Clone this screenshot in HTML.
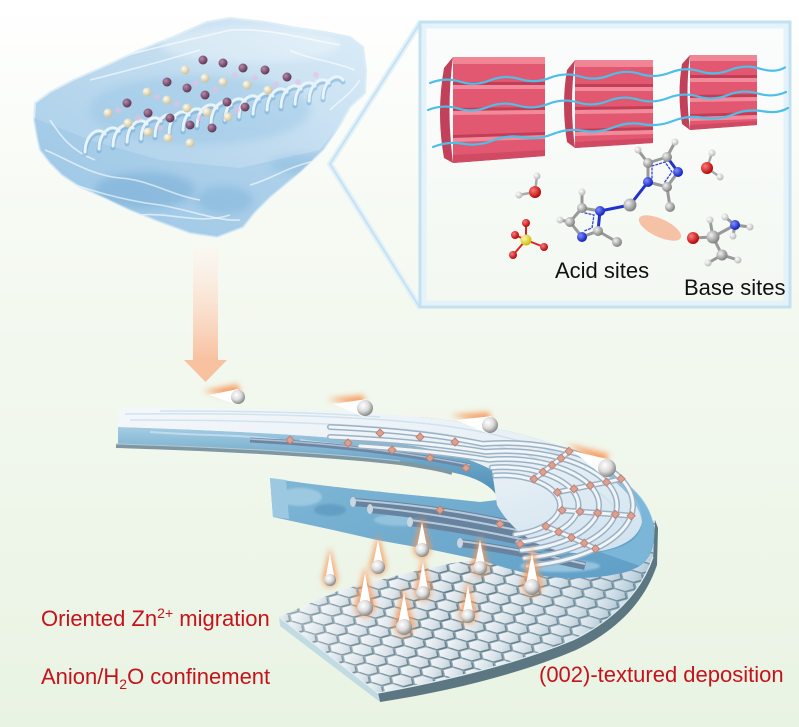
<!DOCTYPE html>
<html><head><meta charset="utf-8"><style>
html,body{margin:0;padding:0;background:#fff;}
svg{display:block;}
text{font-family:"Liberation Sans",Arial,sans-serif;}
</style></head><body>
<svg width="799" height="727" viewBox="0 0 799 727" xmlns="http://www.w3.org/2000/svg">
<defs>
<linearGradient id="bg" x1="0" y1="0" x2="0" y2="1">
<stop offset="0" stop-color="#ffffff"/><stop offset="0.3" stop-color="#f6faf3"/><stop offset="1" stop-color="#e9f3e3"/>
</linearGradient>
<linearGradient id="iceG" x1="1" y1="0" x2="0" y2="1">
<stop offset="0" stop-color="#dcedf8"/><stop offset="0.5" stop-color="#bcd9ee"/><stop offset="1" stop-color="#a2cbe8"/>
</linearGradient>
<linearGradient id="boxG" x1="0" y1="0" x2="0" y2="1">
<stop offset="0" stop-color="#fbfdfd"/><stop offset="1" stop-color="#f3f8f1"/>
</linearGradient>
<linearGradient id="arrG" x1="0" y1="0" x2="0" y2="1">
<stop offset="0" stop-color="#fff6f1" stop-opacity="0.5"/><stop offset="1" stop-color="#f8c1a0"/>
</linearGradient>
<linearGradient id="topG" x1="0" y1="0" x2="1" y2="1">
<stop offset="0" stop-color="#f4f7fa"/><stop offset="0.6" stop-color="#e6eff5"/><stop offset="1" stop-color="#cfe2ee"/>
</linearGradient>
<linearGradient id="loopG" x1="0" y1="0" x2="1" y2="1">
<stop offset="0" stop-color="#86bcd9"/><stop offset="1" stop-color="#5f9ec6"/>
</linearGradient>
<linearGradient id="frontG" x1="0" y1="0" x2="0" y2="1">
<stop offset="0" stop-color="#a5cde3"/><stop offset="0.5" stop-color="#6aa5c8"/><stop offset="1" stop-color="#4f8db5"/>
</linearGradient>
<linearGradient id="hexG" x1="0" y1="0" x2="1" y2="1">
<stop offset="0" stop-color="#fbfcfd"/><stop offset="0.6" stop-color="#d9e3e9"/><stop offset="1" stop-color="#b4c5cf"/>
</linearGradient>
<linearGradient id="plateShade" x1="0" y1="0" x2="1" y2="0">
<stop offset="0" stop-color="#ffffff" stop-opacity="0.3"/><stop offset="0.45" stop-color="#ffffff" stop-opacity="0"/><stop offset="1" stop-color="#6f9fbd" stop-opacity="0.3"/>
</linearGradient>
<radialGradient id="gZ" cx="0.38" cy="0.35" r="0.7"><stop offset="0" stop-color="#ffffff"/><stop offset="0.5" stop-color="#dcdcdc"/><stop offset="1" stop-color="#7e7e7e"/></radialGradient>
<radialGradient id="gC" cx="0.35" cy="0.35" r="0.7"><stop offset="0" stop-color="#f2f2f2"/><stop offset="1" stop-color="#7a7a7a"/></radialGradient>
<radialGradient id="gN" cx="0.35" cy="0.35" r="0.7"><stop offset="0" stop-color="#7f8fff"/><stop offset="1" stop-color="#0a1ab8"/></radialGradient>
<radialGradient id="gO" cx="0.35" cy="0.35" r="0.7"><stop offset="0" stop-color="#ff7a7a"/><stop offset="1" stop-color="#b00000"/></radialGradient>
<radialGradient id="gH" cx="0.35" cy="0.35" r="0.7"><stop offset="0" stop-color="#ffffff"/><stop offset="1" stop-color="#b5b5b5"/></radialGradient>
<radialGradient id="gS" cx="0.35" cy="0.35" r="0.7"><stop offset="0" stop-color="#fffbb0"/><stop offset="1" stop-color="#c9b800"/></radialGradient>
<radialGradient id="gP" cx="0.35" cy="0.35" r="0.7"><stop offset="0" stop-color="#b58aa8"/><stop offset="1" stop-color="#5a3050"/></radialGradient>
<radialGradient id="gY" cx="0.35" cy="0.35" r="0.7"><stop offset="0" stop-color="#fffdf0"/><stop offset="1" stop-color="#c9bd98"/></radialGradient>
<filter id="glow" x="-60%" y="-60%" width="220%" height="220%"><feGaussianBlur stdDeviation="3"/></filter>
<filter id="blur4" x="-30%" y="-30%" width="160%" height="160%"><feGaussianBlur stdDeviation="4"/></filter>
<filter id="blur1"><feGaussianBlur stdDeviation="1"/></filter>
<pattern id="hexP" patternUnits="userSpaceOnUse" width="24" height="14" patternTransform="matrix(1.25,-0.34,0.95,0.73,279,617)">
<rect width="24" height="14" fill="#86a0ad"/>
<g fill="#5e7783">
<polygon points="-7,1.5 -3.5,-4.5 3.5,-4.5 7,1.5 3.5,7.5 -3.5,7.5"/>
<polygon points="17,1.5 20.5,-4.5 27.5,-4.5 31,1.5 27.5,7.5 20.5,7.5"/>
<polygon points="-7,15.5 -3.5,9.5 3.5,9.5 7,15.5 3.5,21.5 -3.5,21.5"/>
<polygon points="17,15.5 20.5,9.5 27.5,9.5 31,15.5 27.5,21.5 20.5,21.5"/>
<polygon points="5,8.5 8.5,2.5 15.5,2.5 19,8.5 15.5,14.5 8.5,14.5"/>
</g>
<g fill="url(#hexG)">
<polygon points="-7,0 -3.5,-6 3.5,-6 7,0 3.5,6 -3.5,6"/>
<polygon points="17,0 20.5,-6 27.5,-6 31,0 27.5,6 20.5,6"/>
<polygon points="-7,14 -3.5,8 3.5,8 7,14 3.5,20 -3.5,20"/>
<polygon points="17,14 20.5,8 27.5,8 31,14 27.5,20 20.5,20"/>
<polygon points="5,7 8.5,1 15.5,1 19,7 15.5,13 8.5,13"/>
</g>
</pattern>
<clipPath id="iceClip"><path d="M35,103 L50,92 L73,80 L105,66 L140,50 L175,36 L207,22 L230,18 L265,22 L297,28 L325,32 L350,37 L363,47 L366,70 L365,93 L350,107 L340,125 L323,150 L300,172 L270,197 L255,212 L243,227 L217,237 L190,233 L160,222 L130,210 L105,198 L80,187 L62,175 L50,163 L40,150 L37,137 L34,120 Z"/></clipPath>
</defs>

<rect width="799" height="727" fill="url(#bg)"/>

<!-- ICE BLOCK -->
<g>
<path d="M35,103 L50,92 L73,80 L105,66 L140,50 L175,36 L207,22 L230,18 L265,22 L297,28 L325,32 L350,37 L363,47 L366,70 L365,93 L350,107 L340,125 L323,150 L300,172 L270,197 L255,212 L243,227 L217,237 L190,233 L160,222 L130,210 L105,198 L80,187 L62,175 L50,163 L40,150 L37,137 L34,120 Z" fill="url(#iceG)" stroke="#dcedf7" stroke-width="2"/>
<g clip-path="url(#iceClip)">
<path d="M34,118 L90,140 L160,160 L240,168 L320,150 L360,100 L370,240 L30,240 Z" fill="#8fc0e2" opacity="0.35"/>
<ellipse cx="145" cy="190" rx="50" ry="18" fill="#5f9ccc" opacity="0.35" filter="url(#blur4)"/>
<ellipse cx="225" cy="200" rx="28" ry="14" fill="#6ea8d4" opacity="0.35" filter="url(#blur4)"/>
<ellipse cx="300" cy="165" rx="30" ry="10" fill="#7fb4da" opacity="0.35" filter="url(#blur4)"/>
<ellipse cx="250" cy="45" rx="90" ry="18" fill="#ffffff" opacity="0.3" filter="url(#blur4)"/>
<ellipse cx="200" cy="110" rx="110" ry="35" fill="#8cbfe3" opacity="0.35" filter="url(#blur4)"/>
<g fill="none" stroke="#ffffff" stroke-opacity="0.6" stroke-width="1.6">
<path d="M45,150 C70,160 90,175 120,178 C150,180 170,195 200,200"/>
<path d="M60,180 C90,190 120,200 160,205 C190,210 220,222 240,220"/>
<path d="M140,215 C170,212 200,225 230,215"/>
<path d="M250,185 C270,180 290,165 320,160"/>
<path d="M110,60 C150,48 190,40 230,30 C270,28 300,38 340,45"/>
<path d="M90,80 C130,70 160,62 200,50"/>
<path d="M290,50 C310,60 330,60 355,70"/>
<path d="M330,110 C340,100 350,95 360,80"/>
<path d="M50,120 C60,135 70,150 95,160"/>
</g>
<g fill="none" stroke="#6faad8" stroke-width="5" stroke-linecap="round" opacity="0.5">
<path d="M85,154 c0,-18 14,-26 20,-18"/><path d="M99,151 c0,-18 14,-26 20,-18"/><path d="M113,148 c0,-18 14,-26 20,-18"/><path d="M127,144 c0,-18 14,-26 20,-18"/><path d="M141,141 c0,-18 14,-26 20,-18"/><path d="M155,138 c0,-18 14,-26 20,-18"/><path d="M169,135 c0,-18 14,-26 20,-18"/><path d="M183,132 c0,-18 14,-26 20,-18"/><path d="M197,128 c0,-18 14,-26 20,-18"/><path d="M211,125 c0,-18 14,-26 20,-18"/><path d="M225,122 c0,-18 14,-26 20,-18"/><path d="M239,119 c0,-18 14,-26 20,-18"/><path d="M253,116 c0,-18 14,-26 20,-18"/><path d="M267,112 c0,-18 14,-26 20,-18"/><path d="M281,109 c0,-18 14,-26 20,-18"/><path d="M295,106 c0,-18 14,-26 20,-18"/><path d="M309,103 c0,-18 14,-26 20,-18"/><path d="M323,100 c0,-18 14,-26 20,-18"/>
</g>
<g fill="none" stroke="#eef6fc" stroke-width="3" stroke-linecap="round" opacity="0.95">
<path d="M85,152 c0,-18 14,-26 20,-18"/><path d="M99,149 c0,-18 14,-26 20,-18"/><path d="M113,146 c0,-18 14,-26 20,-18"/><path d="M127,142 c0,-18 14,-26 20,-18"/><path d="M141,139 c0,-18 14,-26 20,-18"/><path d="M155,136 c0,-18 14,-26 20,-18"/><path d="M169,133 c0,-18 14,-26 20,-18"/><path d="M183,130 c0,-18 14,-26 20,-18"/><path d="M197,126 c0,-18 14,-26 20,-18"/><path d="M211,123 c0,-18 14,-26 20,-18"/><path d="M225,120 c0,-18 14,-26 20,-18"/><path d="M239,117 c0,-18 14,-26 20,-18"/><path d="M253,114 c0,-18 14,-26 20,-18"/><path d="M267,110 c0,-18 14,-26 20,-18"/><path d="M281,107 c0,-18 14,-26 20,-18"/><path d="M295,104 c0,-18 14,-26 20,-18"/><path d="M309,101 c0,-18 14,-26 20,-18"/><path d="M323,98 c0,-18 14,-26 20,-18"/>
</g>
<g fill="#e9bfe0" opacity="0.6">
<circle cx="118" cy="110" r="3"/><circle cx="138" cy="118" r="3"/><circle cx="157" cy="97" r="3"/><circle cx="177" cy="104" r="3"/><circle cx="196" cy="83" r="3"/><circle cx="215" cy="90" r="3"/><circle cx="235" cy="75" r="3"/><circle cx="255" cy="78" r="3"/><circle cx="276" cy="84" r="3"/><circle cx="298" cy="82" r="3"/><circle cx="316" cy="75" r="3"/><circle cx="160" cy="128" r="3"/><circle cx="200" cy="118" r="3"/><circle cx="237" cy="110" r="3"/>
</g>
<g>
<circle cx="203" cy="60" r="4.5" fill="url(#gP)"/><circle cx="223" cy="63" r="4.5" fill="url(#gP)"/><circle cx="243" cy="68" r="4.5" fill="url(#gP)"/><circle cx="265" cy="70" r="4.5" fill="url(#gP)"/><circle cx="287" cy="77" r="4.5" fill="url(#gP)"/>
<circle cx="167" cy="82" r="4.5" fill="url(#gP)"/><circle cx="187" cy="88" r="4.5" fill="url(#gP)"/><circle cx="205" cy="95" r="4.5" fill="url(#gP)"/><circle cx="227" cy="102" r="4.5" fill="url(#gP)"/><circle cx="245" cy="107" r="4.5" fill="url(#gP)"/>
<circle cx="127" cy="103" r="4.5" fill="url(#gP)"/><circle cx="148" cy="113" r="4.5" fill="url(#gP)"/><circle cx="170" cy="118" r="4.5" fill="url(#gP)"/><circle cx="190" cy="125" r="4.5" fill="url(#gP)"/><circle cx="212" cy="128" r="4.5" fill="url(#gP)"/>
<circle cx="185" cy="70" r="4.5" fill="url(#gY)"/><circle cx="205" cy="78" r="4.5" fill="url(#gY)"/><circle cx="223" cy="82" r="4.5" fill="url(#gY)"/><circle cx="247" cy="85" r="4.5" fill="url(#gY)"/><circle cx="268" cy="90" r="4.5" fill="url(#gY)"/>
<circle cx="147" cy="92" r="4.5" fill="url(#gY)"/><circle cx="167" cy="100" r="4.5" fill="url(#gY)"/><circle cx="187" cy="108" r="4.5" fill="url(#gY)"/><circle cx="207" cy="112" r="4.5" fill="url(#gY)"/><circle cx="228" cy="117" r="4.5" fill="url(#gY)"/>
<circle cx="108" cy="113" r="4.5" fill="url(#gY)"/><circle cx="128" cy="123" r="4.5" fill="url(#gY)"/><circle cx="148" cy="132" r="4.5" fill="url(#gY)"/><circle cx="168" cy="138" r="4.5" fill="url(#gY)"/><circle cx="190" cy="143" r="4.5" fill="url(#gY)"/>
</g>
</g>
</g>

<!-- magnification lines -->
<polyline points="420,23 330,164 420,308" fill="none" stroke="#e3f1f9" stroke-width="6"/>
<polyline points="420,23 330,164 420,308" fill="none" stroke="#c5e2f2" stroke-width="2"/>

<!-- INSET BOX -->
<rect x="420" y="22" width="370" height="285" fill="url(#boxG)" stroke="#c3e1f1" stroke-width="3"/>
<rect x="424" y="26" width="362" height="277" fill="none" stroke="#e4f2f9" stroke-width="5"/>

<!-- red blocks -->
<g>
<path d="M453,57 L444,68 Q436,113 444,158 L453,163 Q446,110 453,57 Z" fill="#c1415b"/>
<polygon points="453,57 545,57 545,156 453,163" fill="#e25870"/>
<polygon points="453,57 545,57 545,64 453,64" fill="#ef8595"/>
<polygon points="453,82 545,82 545,85 453,85" fill="#c23e56"/><polygon points="453,85 545,85 545,89 453,89" fill="#f18b9b"/>
<polygon points="453,108 545,107 545,110 453,111" fill="#c23e56"/><polygon points="453,111 545,110 545,114 453,115" fill="#f18b9b"/>
<polygon points="453,135 545,132 545,135 453,138" fill="#c23e56"/><polygon points="453,138 545,135 545,139 453,142" fill="#f18b9b"/>
<polygon points="453,155 545,150 545,156 453,163" fill="#d04a63"/>

<path d="M575,60 L567,70 Q561,104 567,142 L575,148 Q569,104 575,60 Z" fill="#c1415b"/>
<polygon points="575,60 653,60 653,143 575,148" fill="#e25870"/>
<polygon points="575,60 653,60 653,67 575,67" fill="#ef8595"/>
<polygon points="575,84 653,84 653,87 575,87" fill="#c23e56"/><polygon points="575,87 653,87 653,91 575,91" fill="#f18b9b"/>
<polygon points="575,107 653,106 653,109 575,110" fill="#c23e56"/><polygon points="575,110 653,109 653,113 575,114" fill="#f18b9b"/>
<polygon points="575,129 653,127 653,130 575,132" fill="#c23e56"/><polygon points="575,132 653,130 653,134 575,136" fill="#f18b9b"/>
<polygon points="575,142 653,138 653,143 575,148" fill="#d04a63"/>

<path d="M690,55 L682,64 Q677,93 682,124 L690,130 Q685,92 690,55 Z" fill="#c1415b"/>
<polygon points="690,55 757,55 757,125 690,130" fill="#e25870"/>
<polygon points="690,55 757,55 757,61 690,61" fill="#ef8595"/>
<polygon points="690,75 757,75 757,78 690,78" fill="#c23e56"/><polygon points="690,78 757,78 757,82 690,82" fill="#f18b9b"/>
<polygon points="690,95 757,94 757,97 690,98" fill="#c23e56"/><polygon points="690,98 757,97 757,101 690,102" fill="#f18b9b"/>
<polygon points="690,114 757,112 757,115 690,117" fill="#c23e56"/><polygon points="690,117 757,115 757,119 690,121" fill="#f18b9b"/>
<polygon points="690,125 757,121 757,125 690,130" fill="#d04a63"/>
</g>

<!-- blue wavy lines -->
<g fill="none" stroke="#4dbfe8" stroke-width="2.2" stroke-linecap="round">
<path d="M430,83 q15,-6 30,-1.3 t30,-1.3 t30,-1.3 t30,-1.3 t30,-1.3 t30,-1.3 t30,-1.3 t30,-1.3 t30,-1.3 t30,-1.3 t30,-1.3 t25,-1.3"/>
<path d="M428,110 q15,-6 30,-1.5 t30,-1.5 t30,-1.5 t30,-1.5 t30,-1.5 t30,-1.5 t30,-1.5 t30,-1.5 t30,-1.5 t30,-1.5 t30,-1.5 t28,-1.5"/>
<path d="M433,147 q15,-6 30,-3.25 t30,-3.25 t30,-3.25 t30,-3.25 t30,-3.25 t30,-3.25 t30,-3.25 t30,-3.25 t30,-3.25 t30,-3.25 t30,-3.25 t25,-3.25"/>
</g>

<!-- molecules -->
<g stroke-linecap="round">
<line x1="535" y1="192" x2="537" y2="176" stroke="#aaa" stroke-width="2.5"/>
<line x1="535" y1="192" x2="519" y2="195" stroke="#aaa" stroke-width="2.5"/>
<circle cx="537" cy="176" r="3.5" fill="url(#gH)"/><circle cx="519" cy="195" r="3.5" fill="url(#gH)"/>
<circle cx="535" cy="192" r="6" fill="url(#gO)"/>
<g stroke="#d22" stroke-width="2">
<line x1="526" y1="240" x2="526" y2="223"/><line x1="526" y1="240" x2="515" y2="235"/><line x1="526" y1="240" x2="544" y2="247"/><line x1="526" y1="240" x2="513" y2="255"/>
</g>
<circle cx="526" cy="223" r="4" fill="url(#gO)"/><circle cx="515" cy="235" r="4" fill="url(#gO)"/><circle cx="544" cy="247" r="4" fill="url(#gO)"/><circle cx="513" cy="255" r="4" fill="url(#gO)"/>
<circle cx="526" cy="240" r="5.5" fill="url(#gS)"/>
<g stroke="#999" stroke-width="3">
<line x1="582" y1="208" x2="600" y2="211"/><line x1="598" y1="231" x2="582" y2="237"/><line x1="582" y1="237" x2="570" y2="222"/><line x1="570" y1="222" x2="582" y2="208"/>
<line x1="570" y1="222" x2="560" y2="220"/><line x1="582" y1="208" x2="582" y2="192"/><line x1="598" y1="231" x2="617" y2="242"/>
</g>
<line x1="600" y1="211" x2="598" y2="231" stroke="#2233cc" stroke-width="3"/>
<line x1="600" y1="211" x2="630" y2="205" stroke="#2233cc" stroke-width="3"/>
<line x1="630" y1="205" x2="648" y2="182" stroke="#2233cc" stroke-width="3"/>
<path d="M585,213 L594,215 L592,228 L584,231" fill="none" stroke="#3344dd" stroke-width="1.3" stroke-dasharray="2,2"/>
<circle cx="560" cy="220" r="3.5" fill="url(#gH)"/><circle cx="582" cy="192" r="3.5" fill="url(#gH)"/>
<circle cx="582" cy="208" r="5" fill="url(#gC)"/><circle cx="570" cy="222" r="5" fill="url(#gC)"/><circle cx="598" cy="231" r="5" fill="url(#gC)"/>
<circle cx="617" cy="242" r="5" fill="url(#gC)"/>
<circle cx="600" cy="211" r="5" fill="url(#gN)"/><circle cx="582" cy="237" r="5" fill="url(#gN)"/>
<circle cx="630" cy="205" r="6.5" fill="url(#gC)"/>
<g stroke="#999" stroke-width="3">
<line x1="648" y1="182" x2="648" y2="163"/><line x1="648" y1="163" x2="667" y2="157"/><line x1="678" y1="172" x2="667" y2="187"/><line x1="667" y1="187" x2="648" y2="182"/>
<line x1="667" y1="187" x2="670" y2="207"/><line x1="648" y1="163" x2="638" y2="150"/><line x1="667" y1="157" x2="675" y2="142"/>
</g>
<line x1="667" y1="157" x2="678" y2="172" stroke="#2233cc" stroke-width="3"/>
<path d="M652,178 L652,166 L665,162 L672,172 L664,183" fill="none" stroke="#3344dd" stroke-width="1.3" stroke-dasharray="2,2"/>
<circle cx="638" cy="150" r="3.5" fill="url(#gH)"/><circle cx="675" cy="142" r="3.5" fill="url(#gH)"/>
<circle cx="648" cy="163" r="5" fill="url(#gC)"/><circle cx="667" cy="157" r="5" fill="url(#gC)"/><circle cx="667" cy="187" r="5" fill="url(#gC)"/>
<circle cx="670" cy="207" r="5" fill="url(#gC)"/>
<circle cx="648" cy="182" r="5" fill="url(#gN)"/><circle cx="678" cy="172" r="5" fill="url(#gN)"/>
<ellipse cx="660" cy="228" rx="23" ry="9" transform="rotate(25 660 228)" fill="#f6c2a6"/>
<line x1="707" y1="168" x2="712" y2="153" stroke="#aaa" stroke-width="2.5"/>
<line x1="707" y1="168" x2="720" y2="177" stroke="#aaa" stroke-width="2.5"/>
<circle cx="712" cy="153" r="3.5" fill="url(#gH)"/><circle cx="720" cy="177" r="3.5" fill="url(#gH)"/>
<circle cx="707" cy="168" r="6" fill="url(#gO)"/>
<g stroke="#999" stroke-width="3">
<line x1="693" y1="238" x2="713" y2="237"/><line x1="713" y1="237" x2="722" y2="255"/><line x1="713" y1="237" x2="735" y2="225"/>
<line x1="713" y1="237" x2="710" y2="220"/><line x1="722" y1="255" x2="708" y2="263"/><line x1="722" y1="255" x2="738" y2="260"/>
<line x1="735" y1="225" x2="725" y2="217"/><line x1="735" y1="225" x2="750" y2="227"/><line x1="735" y1="225" x2="733" y2="236"/>
</g>
<circle cx="710" cy="220" r="3.5" fill="url(#gH)"/><circle cx="725" cy="217" r="3.5" fill="url(#gH)"/><circle cx="750" cy="227" r="3.5" fill="url(#gH)"/>
<circle cx="733" cy="236" r="3.5" fill="url(#gH)"/><circle cx="708" cy="263" r="3.5" fill="url(#gH)"/><circle cx="738" cy="260" r="3.5" fill="url(#gH)"/>
<circle cx="722" cy="255" r="5.5" fill="url(#gC)"/>
<circle cx="713" cy="237" r="6.5" fill="url(#gC)"/>
<circle cx="735" cy="225" r="5" fill="url(#gN)"/>
<circle cx="693" cy="238" r="6" fill="url(#gO)"/>
</g>
<text x="555" y="278" font-size="22" fill="#111">Acid sites</text>
<text x="684" y="295" font-size="22" fill="#111">Base sites</text>

<!-- ARROW -->
<rect x="193" y="247" width="25" height="113" fill="url(#arrG)"/>
<polygon points="184,360 227,360 205.5,382" fill="#f8c1a0"/>

<!-- PLATE -->
<path d="M378,693 C450,680 520,662 573,640 C610,622 640,595 653,557 L655,520 L658,528 L657,565 C644,604 614,632 576,650 C522,673 452,691 380,702 Z" fill="#5d7782"/>
<path d="M279,617 L378,693 L380,702 L280,626 Z" fill="#c2dbe3"/>
<path d="M279,617 L378,693 C450,680 520,662 573,640 C610,622 640,595 653,557 L655,520 L600,540 L520,555 L453,563 L407,573 L340,590 Z" fill="url(#hexP)"/>
<path d="M279,617 L378,693 C450,680 520,662 573,640 C610,622 640,595 653,557 L655,520 L600,540 L520,555 L453,563 L407,573 L340,590 Z" fill="url(#plateShade)"/>
<path d="M279,617 L378,693 C450,680 520,662 573,640 C610,622 640,595 653,557" fill="none" stroke="#dfeef3" stroke-width="1.2"/>

<!-- HORSESHOE MEMBRANE -->
<path d="M270,478 C300,483 340,488 433,497 L480,502 L497,500 L492,470 L420,417 C500,425 565,443 605,468 C632,486 650,505 654,527 C656,545 650,560 638,567 C620,576 590,579 562,578 C530,576 505,568 480,560 L433,550 L377,540 L333,530 L273,517 Z" fill="url(#loopG)"/>
<ellipse cx="300" cy="497" rx="22" ry="9" fill="#b4d6ea" opacity="0.6" filter="url(#blur1)"/>
<ellipse cx="330" cy="510" rx="16" ry="6" fill="#4f8cb6" opacity="0.5" filter="url(#blur1)"/>
<ellipse cx="400" cy="520" rx="26" ry="6" fill="#a9d0e6" opacity="0.6" filter="url(#blur1)"/>
<ellipse cx="560" cy="566" rx="40" ry="6" fill="#b6daee" opacity="0.6" filter="url(#blur1)"/>
<polygon points="270,478 286,480 289,519 273,517" fill="#9cc8e2"/>
<g fill="none" stroke-linecap="butt">
<path d="M353,502 C420,507 470,515 525,527" stroke="#6783a0" stroke-width="8"/>
<path d="M353,500 C420,505 470,513 525,525" stroke="#b9cad8" stroke-width="2"/>
<path d="M370,509 C430,515 480,524 540,537" stroke="#6783a0" stroke-width="8"/>
<path d="M370,507 C430,513 480,522 540,535" stroke="#b9cad8" stroke-width="2"/>
<path d="M410,522 C460,528 510,538 560,550" stroke="#6783a0" stroke-width="8"/>
<path d="M410,520 C460,526 510,536 560,548" stroke="#b9cad8" stroke-width="2"/>
<path d="M460,543 C500,548 540,556 585,566" stroke="#6783a0" stroke-width="8"/>
<path d="M460,541 C500,546 540,554 585,564" stroke="#b9cad8" stroke-width="2"/>
</g>
<ellipse cx="353" cy="502" rx="3" ry="5" fill="#cad7e0"/>
<ellipse cx="370" cy="509" rx="3" ry="5" fill="#cad7e0"/>
<ellipse cx="410" cy="522" rx="3" ry="5" fill="#cad7e0"/>
<ellipse cx="460" cy="543" rx="3" ry="5" fill="#cad7e0"/>

<path d="M118,427 C220,430 330,436 400,444 C440,449 470,458 492,470 L497,496 C490,484 472,476 450,472 C430,468 420,466 400,463 C330,455 220,449 118,446 Z" fill="url(#frontG)"/>
<path d="M150,432 C200,436 240,434 280,440 M300,440 C340,446 380,448 420,456" fill="none" stroke="#cfe6f2" stroke-width="2" opacity="0.7"/>
<path d="M116,446 C220,449 330,455 400,463 C420,466 440,469 452,473" fill="none" stroke="#7f97a3" stroke-width="4"/>
<path d="M116,444 C220,447 330,453 400,461" fill="none" stroke="#b4c8d0" stroke-width="1"/>
<path d="M250,440 C330,444 400,452 470,466" fill="none" stroke="#6d86a3" stroke-width="5"/>
<path d="M250,439 C330,443 400,451 470,465" fill="none" stroke="#aebfd0" stroke-width="1.5"/>

<path d="M118,408 C250,407 350,410 420,417 C500,425 565,443 605,468 C630,484 642,503 642,522 C638,542 612,553 575,553 C540,551 512,532 497,505 L492,470 C470,458 440,449 400,444 C330,436 220,430 118,427 Z" fill="url(#topG)"/>
<g fill="none" stroke="#cadfeb" stroke-width="1.5" opacity="0.8">
<path d="M125,414 C250,413 350,416 420,423 C500,431 560,450 600,474"/>
<path d="M130,420 C250,420 340,423 410,430 C480,437 540,455 580,480"/>
<path d="M160,411 C260,411 330,413 380,417"/>
<path d="M560,470 C600,490 620,505 625,530"/>
</g>
<path d="M600,470 C625,488 640,505 642,522 C640,540 625,548 600,552 L640,566 C652,556 656,540 653,522 C648,500 630,483 605,468 Z" fill="#7fbadb" opacity="0.85"/>

<g fill="none" stroke-linecap="round">
<g stroke="#9bb2c6" stroke-width="6">
<path d="M494.9,475.5 A58,30 0 0 1 515.1,534.5"/>
<path d="M491.8,467.6 A76,38 0 0 1 518.2,542.4"/>
<path d="M488.6,459.7 A94,46 0 0 1 521.4,550.3"/>
<path d="M485.5,451.8 A112,54 0 0 1 524.5,558.2"/>
<path d="M482.7,443.9 A128,62 0 0 1 527.3,566.1"/>
<path d="M482.7,443.9 C450,437 400,430 330,427"/>
<path d="M485.5,451.8 C450,446 400,440 330,437"/>
<path d="M488.6,459.7 C460,455 420,450 360,446"/>
<polyline points="534,479 543,472.1 552,465.2 561,458.2 569,451.3"/>
<polyline points="557.5,492.3 573.9,488.9 590.2,485.5 606.5,482.2 621,478.8"/>
<polyline points="562.1,510.2 579.9,511.6 597.6,513 615.3,514.4 631.1,515.8"/>
<polyline points="546,526.2 558.7,531.9 571.5,537.5 584.2,543.2 595.5,548.8"/>
</g>
<g stroke="#f1f5f8" stroke-width="3">
<path d="M494.9,475.5 A58,30 0 0 1 515.1,534.5"/>
<path d="M491.8,467.6 A76,38 0 0 1 518.2,542.4"/>
<path d="M488.6,459.7 A94,46 0 0 1 521.4,550.3"/>
<path d="M485.5,451.8 A112,54 0 0 1 524.5,558.2"/>
<path d="M482.7,443.9 A128,62 0 0 1 527.3,566.1"/>
<path d="M482.7,443.9 C450,437 400,430 330,427"/>
<path d="M485.5,451.8 C450,446 400,440 330,437"/>
<path d="M488.6,459.7 C460,455 420,450 360,446"/>
<polyline points="534,479 543,472.1 552,465.2 561,458.2 569,451.3"/>
<polyline points="557.5,492.3 573.9,488.9 590.2,485.5 606.5,482.2 621,478.8"/>
<polyline points="562.1,510.2 579.9,511.6 597.6,513 615.3,514.4 631.1,515.8"/>
<polyline points="546,526.2 558.7,531.9 571.5,537.5 584.2,543.2 595.5,548.8"/>
</g>
</g>
<g fill="#dba294" stroke="#bf8172" stroke-width="1">
<polygon points="534,475 538,479 534,483 530,479"/><polygon points="557.5,488.3 561.5,492.3 557.5,496.3 553.5,492.3"/><polygon points="562.1,506.2 566.1,510.2 562.1,514.2 558.1,510.2"/><polygon points="546,522.2 550,526.2 546,530.2 542,526.2"/>
<polygon points="543,468.1 547,472.1 543,476.1 539,472.1"/><polygon points="573.9,484.9 577.9,488.9 573.9,492.9 569.9,488.9"/><polygon points="579.9,507.6 583.9,511.6 579.9,515.6 575.9,511.6"/><polygon points="558.7,527.9 562.7,531.9 558.7,535.9 554.7,531.9"/>
<polygon points="552,461.2 556,465.2 552,469.2 548,465.2"/><polygon points="590.2,481.5 594.2,485.5 590.2,489.5 586.2,485.5"/><polygon points="597.6,509 601.6,513 597.6,517 593.6,513"/><polygon points="571.5,533.5 575.5,537.5 571.5,541.5 567.5,537.5"/>
<polygon points="561,454.2 565,458.2 561,462.2 557,458.2"/><polygon points="606.5,478.2 610.5,482.2 606.5,486.2 602.5,482.2"/><polygon points="615.3,510.4 619.3,514.4 615.3,518.4 611.3,514.4"/><polygon points="584.2,539.2 588.2,543.2 584.2,547.2 580.2,543.2"/>
<polygon points="569,447.3 573,451.3 569,455.3 565,451.3"/><polygon points="621,474.8 625,478.8 621,482.8 617,478.8"/><polygon points="631.1,511.8 635.1,515.8 631.1,519.8 627.1,515.8"/><polygon points="595.5,544.8 599.5,548.8 595.5,552.8 591.5,548.8"/>
<polygon points="290,436 294,440 290,444 286,440"/><polygon points="348,439 352,443 348,447 344,443"/><polygon points="392,446 396,450 392,454 388,450"/><polygon points="430,454 434,458 430,462 426,458"/><polygon points="466,464 470,468 466,472 462,468"/>
<polygon points="420,433 424,437 420,441 416,437"/><polygon points="455,438 459,442 455,446 451,442"/><polygon points="380,429 384,433 380,437 376,433"/>
<polygon points="440,506 444,510 440,514 436,510"/><polygon points="500,520 504,524 500,528 496,524"/><polygon points="520,540 524,544 520,548 516,544"/>
</g>

<!-- DROPLETS vertical -->
<g>
<g opacity="0.85" filter="url(#glow)" fill="#f7995a">
<polygon points="330,547 322,580 338,580"/><circle cx="330" cy="580" r="7"/>
<polygon points="378,534 369,567 387,567"/><circle cx="378" cy="567" r="8"/>
<polygon points="422,516 413,550 431,550"/><circle cx="422" cy="550" r="8"/>
<polygon points="480,534 471,568 489,568"/><circle cx="480" cy="568" r="8"/>
<polygon points="532,546 521,587 543,587"/><circle cx="532" cy="587" r="9"/>
<polygon points="365,566 354,608 376,608"/><circle cx="365" cy="608" r="9"/>
<polygon points="423,556 414,593 432,593"/><circle cx="423" cy="593" r="8"/>
<polygon points="404,586 393,627 415,627"/><circle cx="404" cy="627" r="9"/>
<polygon points="468,579 459,616 477,616"/><circle cx="468" cy="616" r="8"/>
</g>
<g fill="#ffffff">
<polygon points="330,553 325.2,580 334.8,580"/>
<polygon points="378,540 372.4,567 383.6,567"/>
<polygon points="422,522 416.4,550 427.6,550"/>
<polygon points="480,540 474.4,568 485.6,568"/>
<polygon points="532,553 525.6,587 538.4,587"/>
<polygon points="365,573 358.6,608 371.4,608"/>
<polygon points="423,562 417.4,593 428.6,593"/>
<polygon points="404,593 397.6,627 410.4,627"/>
<polygon points="468,585 462.4,616 473.6,616"/>
</g>
<circle cx="330" cy="580" r="6" fill="url(#gZ)"/>
<circle cx="378" cy="567" r="7" fill="url(#gZ)"/>
<circle cx="422" cy="550" r="7" fill="url(#gZ)"/>
<circle cx="480" cy="568" r="7" fill="url(#gZ)"/>
<circle cx="532" cy="587" r="8" fill="url(#gZ)"/>
<circle cx="365" cy="608" r="8" fill="url(#gZ)"/>
<circle cx="423" cy="593" r="7" fill="url(#gZ)"/>
<circle cx="404" cy="627" r="8" fill="url(#gZ)"/>
<circle cx="468" cy="616" r="7" fill="url(#gZ)"/>
</g>

<!-- DROPLETS horizontal -->
<g>
<g opacity="0.9" filter="url(#glow)" fill="#f7995a">
<polygon points="203,391 238,384 241,399"/>
<polygon points="327,399 363,395 367,408"/>
<polygon points="450,415 489,412 493,425"/>
<polygon points="567,444 609,454 604,467"/>
</g>
<g fill="#ffffff">
<polygon points="209,395 238,389 238,405"/>
<polygon points="333,404 366.6,399.1 363.4,416.9"/>
<polygon points="456,420 491.6,416.1 488.4,433.9"/>
<polygon points="573,451 611.2,460 602.8,476"/>
</g>
<circle cx="238" cy="397" r="7" fill="url(#gZ)"/>
<circle cx="365" cy="408" r="8" fill="url(#gZ)"/>
<circle cx="490" cy="425" r="8" fill="url(#gZ)"/>
<circle cx="607" cy="468" r="9" fill="url(#gZ)"/>
</g>

<!-- TEXT -->
<text x="41" y="626" font-size="22" fill="#c5131c">Oriented Zn<tspan font-size="14" dy="-8">2+</tspan><tspan dy="8"> migration</tspan></text>
<text x="41" y="684" font-size="22" fill="#c5131c">Anion/H<tspan font-size="14" dy="5">2</tspan><tspan dy="-5">O confinement</tspan></text>
<text x="539" y="682" font-size="22" fill="#c5131c">(002)-textured deposition</text>
</svg>
</body></html>
